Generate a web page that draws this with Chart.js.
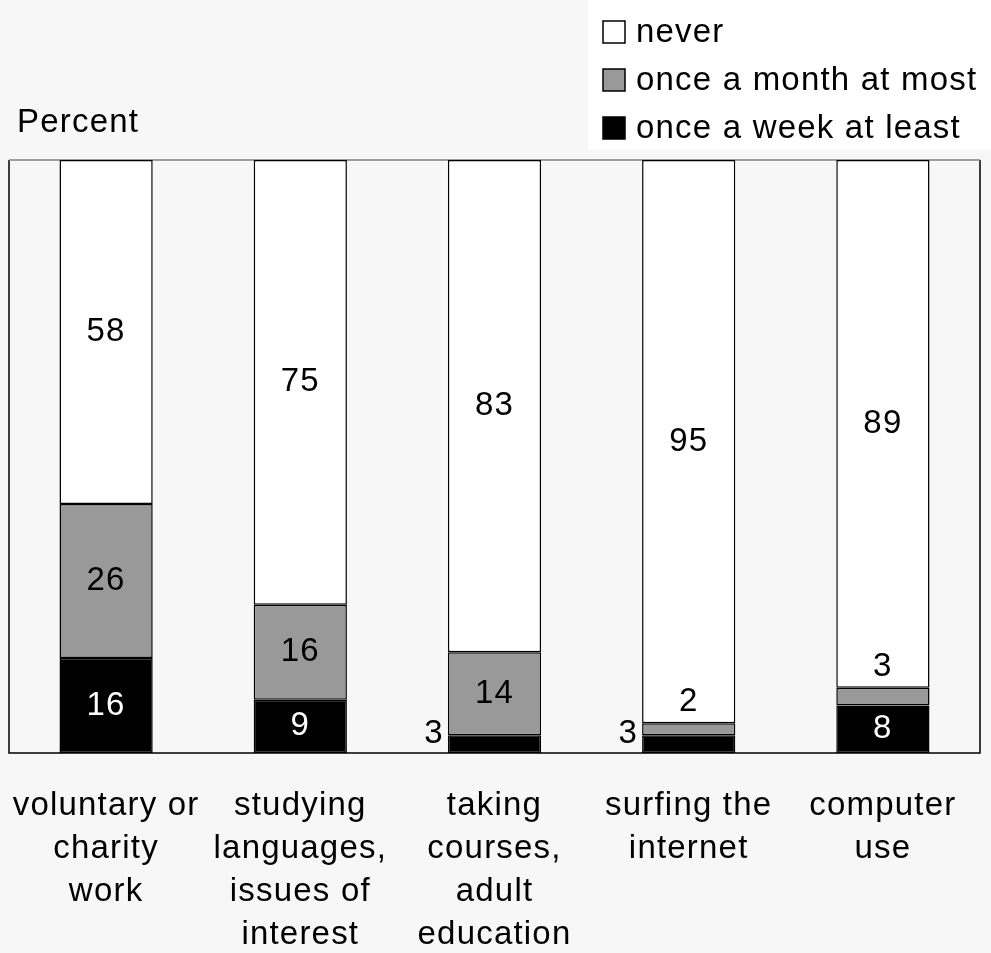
<!DOCTYPE html>
<html>
<head>
<meta charset="utf-8">
<script src="https://cdn.jsdelivr.net/npm/chart.js@4/dist/chart.umd.min.js"></script>
<style>
    body { margin: 0; background: #f7f7f7; }
    #wrap { width: 991px; height: 953px; position: relative; }
</style>
</head>
<body>
<div id="wrap"><canvas id="activityChart"></canvas></div>
<script>
// Activities and how often people do them (percent)
const categories = [
    ['voluntary or', 'charity', 'work'],
    ['studying', 'languages,', 'issues of', 'interest'],
    ['taking', 'courses,', 'adult', 'education'],
    ['surfing the', 'internet'],
    ['computer', 'use']
];
const weekly = [16, 9, 3, 3, 8];
const monthly = [26, 16, 14, 2, 3];
const never = [58, 75, 83, 95, 89];

const seriesNames = ['once a week at least', 'once a month at most', 'never'];
const seriesColors = ['#000000', '#999999', '#ffffff'];
const labelColors = ['#ffffff', '#000000', '#000000'];

const FONT_SIZE = 33;
const FONT = FONT_SIZE + 'px "Liberation Sans", Arial, sans-serif';

// Background, "Percent" caption and the legend box in the top right corner
const backdrop = {
    id: 'backdrop',
    beforeDraw(chart) {
        const ctx = chart.ctx;
        ctx.letterSpacing = '1.2px';
        ctx.save();
        ctx.fillStyle = '#f7f7f7';
        ctx.fillRect(0, 0, chart.width, chart.height);

        ctx.font = FONT;
        ctx.fillStyle = '#000';
        ctx.textBaseline = 'alphabetic';
        ctx.textAlign = 'left';
        ctx.fillText('Percent', 17, 132);

        // legend, top entry first
        ctx.fillStyle = '#ffffff';
        ctx.fillRect(588, 0, chart.width - 588, 150);
        const order = [2, 1, 0];
        order.forEach((ds, row) => {
            const top = 21 + row * 48;
            ctx.fillStyle = seriesColors[ds];
            ctx.fillRect(603, top, 22, 22);
            ctx.strokeStyle = '#000';
            ctx.lineWidth = 1.5;
            ctx.strokeRect(603, top, 22, 22);
            ctx.fillStyle = '#000';
            ctx.fillText(seriesNames[ds], 636, top + 21);
        });
        ctx.restore();
    },
    beforeDatasetsDraw(chart) {
        const { ctx, chartArea: a } = chart;
        ctx.save();
        ctx.lineWidth = 1.5;
        ctx.strokeStyle = '#000';
        ctx.beginPath();
        ctx.moveTo(a.left, a.top);
        ctx.lineTo(a.left, a.bottom);
        ctx.lineTo(a.right, a.bottom);
        ctx.lineTo(a.right, a.top);
        ctx.stroke();
        ctx.strokeStyle = '#808080';
        ctx.beginPath();
        ctx.moveTo(a.left, a.top);
        ctx.lineTo(a.right, a.top);
        ctx.stroke();
        ctx.restore();
    }
};

// Value labels: inside the segment when it is tall enough, otherwise beside it
const valueLabels = {
    id: 'valueLabels',
    afterDatasetsDraw(chart) {
        const ctx = chart.ctx;
        ctx.save();
        ctx.font = FONT;
        ctx.textBaseline = 'middle';
        chart.data.datasets.forEach((ds, i) => {
            const meta = chart.getDatasetMeta(i);
            meta.data.forEach((bar, j) => {
                const text = String(ds.data[j]);
                const h = bar.base - bar.y;
                if (h >= 30) {
                    ctx.fillStyle = labelColors[i];
                    ctx.textAlign = 'center';
                    ctx.fillText(text, bar.x, (bar.y + bar.base) / 2);
                } else if (i === 0) {
                    ctx.fillStyle = '#000';
                    ctx.textAlign = 'right';
                    ctx.fillText(text, bar.x - bar.width / 2 - 4, bar.base - 19);
                } else {
                    ctx.fillStyle = '#000';
                    ctx.textAlign = 'center';
                    ctx.fillText(text, bar.x, bar.y - 21);
                }
            });
        });
        ctx.restore();
    }
};

const datasets = [weekly, monthly, never].map((values, i) => ({
    label: seriesNames[i],
    data: values,
    backgroundColor: seriesColors[i],
    borderColor: '#000000',
    borderWidth: 1.5,
    borderSkipped: false,
    barPercentage: 0.48,
    categoryPercentage: 1
}));

Chart.defaults.font.family = '"Liberation Sans", Arial, sans-serif';
Chart.defaults.color = '#000';

new Chart(document.getElementById('activityChart'), {
    type: 'bar',
    data: { labels: categories, datasets: datasets },
    options: {
        responsive: true,
        maintainAspectRatio: false,
        animation: false,
        layout: { padding: { left: 9, right: 11, top: 160, bottom: 0 } },
        plugins: {
            legend: { display: false },
            tooltip: { enabled: false }
        },
        scales: {
            x: {
                stacked: true,
                grid: { display: false, drawTicks: false },
                border: { display: false },
                ticks: {
                    font: { size: FONT_SIZE, lineHeight: 43 / FONT_SIZE },
                    color: '#000',
                    padding: 31,
                    maxRotation: 0,
                    autoSkip: false
                },
                afterFit(scale) {
                    scale.height = 200;
                    scale.paddingLeft = 0;
                    scale.paddingRight = 0;
                }
            },
            y: {
                stacked: true,
                display: false,
                min: 0,
                max: 100
            }
        }
    },
    plugins: [backdrop, valueLabels]
});
</script>
</body>
</html>
